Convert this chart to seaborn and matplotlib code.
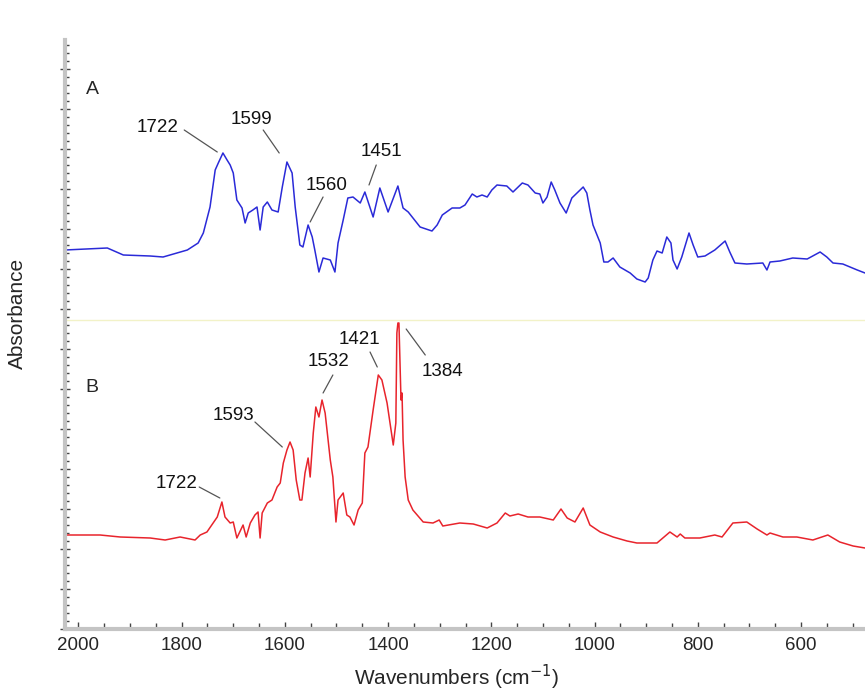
import seaborn as sns
import matplotlib.pyplot as plt
import pandas as pd
from matplotlib.ticker import MultipleLocator

# spectrum A (blue), arbitrary absorbance units
wn_a = [2026, 1944, 1913, 1861, 1836, 1789, 1768, 1758, 1745, 1735, 1729, 1720, 1712, 1706,
        1700, 1693, 1683, 1677, 1671, 1662, 1654, 1648, 1642, 1634, 1625, 1613, 1605, 1596,
        1586, 1580, 1571, 1565, 1555, 1547, 1542, 1534, 1526, 1512, 1503, 1497, 1487, 1478,
        1468, 1454, 1445, 1429, 1416, 1400, 1381, 1371, 1361, 1338, 1315, 1305, 1295, 1276,
        1261, 1251, 1237, 1228, 1218, 1208, 1199, 1189, 1170, 1158, 1140, 1129, 1115, 1106,
        1100, 1092, 1084, 1077, 1067, 1055, 1044, 1034, 1022, 1015, 1009, 1003, 989, 982,
        974, 964, 951, 931, 918, 902, 896, 887, 879, 869, 860, 852, 848, 840, 831, 817,
        809, 800, 786, 767, 747, 738, 728, 705, 674, 666, 660, 641, 616, 588, 563, 550,
        538, 519, 491, 476]
abs_a = [379, 381, 374, 373, 372, 379, 386, 396, 422, 459, 466, 476, 469, 464,
         456, 429, 421, 406, 416, 419, 422, 399, 422, 427, 419, 417, 442, 467,
         456, 422, 384, 382, 404, 392, 379, 357, 371, 369, 357, 386, 409, 431,
         432, 426, 437, 412, 441, 417, 443, 421, 417, 402, 398, 404, 414, 421,
         421, 424, 435, 432, 434, 432, 439, 444, 443, 437, 446, 444, 436, 435,
         426, 432, 447, 439, 426, 416, 431, 436, 442, 436, 419, 404, 386, 367,
         367, 371, 362, 356, 350, 347, 351, 369, 378, 376, 392, 386, 369, 360, 372, 396,
         384, 372, 373, 379, 388, 377, 366, 365, 366, 359, 367, 368, 371, 370, 377, 372,
         366, 365, 359, 356]

# spectrum B (red)
wn_b = [2026, 1958, 1919, 1861, 1832, 1803, 1774, 1764, 1751, 1739, 1731, 1722, 1716, 1706,
        1700, 1693, 1681, 1675, 1667, 1658, 1652, 1648, 1644, 1634, 1625, 1615, 1609, 1603,
        1596, 1590, 1584, 1578, 1571, 1567, 1561, 1555, 1551, 1545, 1540, 1534, 1528, 1522,
        1512, 1507, 1501, 1497, 1487, 1480, 1474, 1466, 1458, 1450, 1445, 1439, 1429, 1419,
        1412, 1402, 1390, 1385, 1383, 1381, 1379, 1375, 1373, 1371, 1367, 1361, 1352, 1332,
        1313, 1301, 1294, 1261, 1235, 1208, 1189, 1173, 1164, 1148, 1129, 1106, 1080, 1065,
        1053, 1038, 1022, 1009, 989, 964, 937, 918, 879, 854, 840, 834, 825, 796, 767, 753,
        732, 705, 685, 666, 660, 635, 608, 577, 548, 525, 499, 476]
abs_b = [94, 94, 92, 91, 89, 92, 89, 94, 97, 106, 112, 127, 112, 106,
         107, 91, 104, 92, 106, 114, 117, 91, 116, 126, 129, 142, 146, 166,
         179, 187, 179, 149, 129, 129, 156, 171, 152, 196, 222, 212, 229, 216,
         169, 152, 107, 129, 136, 114, 112, 104, 119, 126, 176, 182, 219, 254,
         249, 226, 184, 206, 296, 306, 306, 229, 236, 189, 152, 129, 119, 107,
         106, 109, 103, 106, 105, 101, 106, 116, 113, 115, 112, 112, 109, 120,
         111, 107, 121, 104, 97, 92, 88, 86, 86, 97, 92, 95, 91, 91, 94, 92,
         106, 107, 100, 94, 96, 92, 92, 89, 94, 87, 83, 81]

# peak labels: (text, text x, text y, leader start x, y, leader end x, y)
labels_a = [("1722", 1846, 502, 1795, 499, 1731, 477),
            ("1599", 1664, 510, 1642, 499, 1611, 476),
            ("1560", 1520, 444, 1526, 432, 1551, 407),
            ("1451", 1412, 477, 1423, 464, 1437, 444)]
labels_b = [("1722", 1809, 145, 1766, 142, 1726, 131),
            ("1593", 1700, 214, 1658, 207, 1605, 182),
            ("1532", 1516, 267, 1507, 254, 1526, 236),
            ("1421", 1456, 289, 1435, 277, 1421, 262),
            ("1384", 1294, 257, 1365, 300, 1328, 274)]

df_a = pd.DataFrame({"wn": wn_a, "absorbance": abs_a})
df_b = pd.DataFrame({"wn": wn_b, "absorbance": abs_b})

sns.set_style("white")
plt.rcParams['font.family'] = ['Liberation Sans', 'DejaVu Sans']

fig = plt.figure(figsize=(8.65, 6.91), dpi=100)
ax = fig.add_axes([65 / 865, 62 / 691, 800 / 865, 589 / 691])

# faint divider between the two traces
ax.axhline(309, color='#f2f2c8', lw=1, zorder=1)

sns.lineplot(data=df_a, x="wn", y="absorbance", color='#2a2ad8', lw=1.1,
             estimator=None, ax=ax)
sns.lineplot(data=df_b, x="wn", y="absorbance", color='#e8242c', lw=1.1,
             estimator=None, ax=ax)

for txt, tx, ty, x0, y0, x1, y1 in labels_a + labels_b:
    ax.text(tx, ty, txt, fontsize=13.5, ha='center', va='center', color='#111111')
    ax.plot([x0, x1], [y0, y1], color='#555555', lw=0.9)

ax.text(1973, 540, "A", fontsize=14, ha='center', va='center')
ax.text(1973, 242, "B", fontsize=14, ha='center', va='center')

ax.set_xlim(2026, 476)
ax.set_ylim(0, 589)
ax.xaxis.set_major_locator(MultipleLocator(200))
ax.xaxis.set_minor_locator(MultipleLocator(50))
ax.yaxis.set_major_locator(MultipleLocator(40))
ax.yaxis.set_minor_locator(MultipleLocator(8))
ax.set_yticklabels([])

for side in ['top', 'right']:
    ax.spines[side].set_visible(False)
for side in ['left', 'bottom']:
    ax.spines[side].set_color('#c4c4c4')
    ax.spines[side].set_linewidth(3)

ax.tick_params(axis='x', which='major', direction='in', length=5, width=1,
               color='#444444', labelsize=13.5, pad=6, bottom=True)
ax.tick_params(axis='x', which='minor', direction='in', length=4, width=1,
               color='#444444', bottom=True)
ax.tick_params(axis='y', which='major', direction='inout', length=7, width=1,
               color='#444444', left=True)
ax.tick_params(axis='y', which='minor', direction='in', length=3, width=1,
               color='#444444', left=True)

ax.set_xlabel("Wavenumbers (cm$^{-1}$)", fontsize=15)
ax.xaxis.set_label_coords(0.49, -0.058)
ax.set_ylabel("Absorbance", fontsize=15)
ax.yaxis.set_label_coords(-0.047, 0.535)

fig.savefig("out.png", dpi=100)
